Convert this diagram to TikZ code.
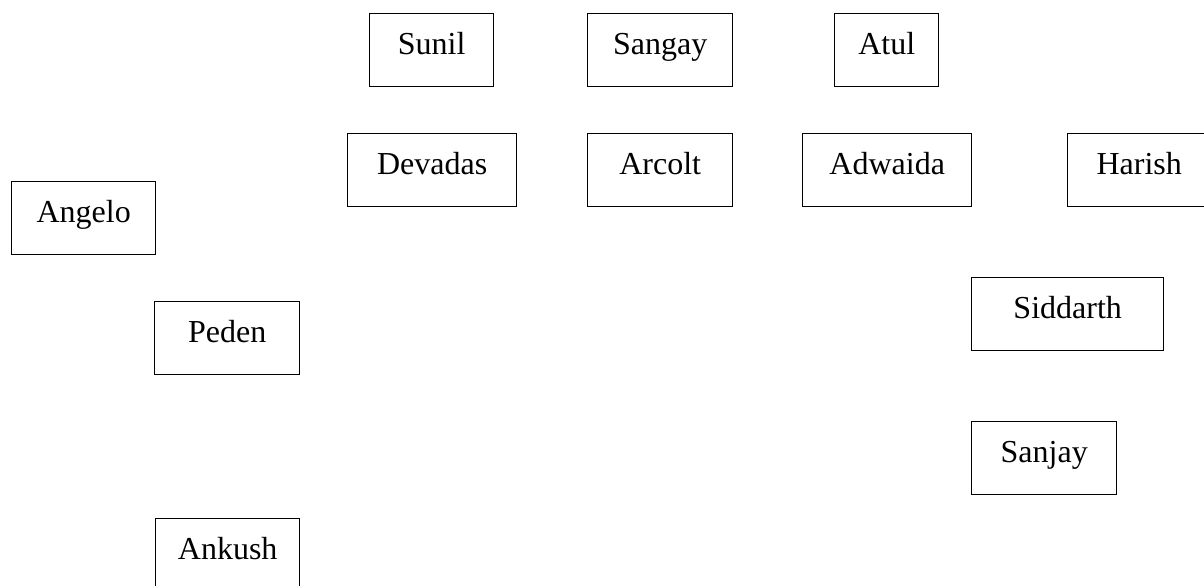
\documentclass[tikz,border=0pt]{standalone}
\usepackage{fontspec}
\setmainfont{Liberation Serif}
\begin{document}
\begin{tikzpicture}[x=0.5pt,y=-0.5pt,
  namebox/.style={draw, line width=0.7pt, anchor=north west, inner sep=0pt,
    text height=20.5pt, text depth=16pt, minimum width=#1*0.5pt,
    font=\fontsize{16}{19}\selectfont}]
\useasboundingbox (0,0) rectangle (1204,585);
\node[namebox=124] (sunil)    at (369,13)  {Sunil};
\node[namebox=145] (sangay)   at (587,13)  {Sangay};
\node[namebox=104] (atul)     at (834,13)  {Atul};
\node[namebox=169] (devadas)  at (347,133) {Devadas};
\node[namebox=145] (arcolt)   at (587,133) {Arcolt};
\node[namebox=169] (adwaida)  at (802,133) {Adwaida};
\node[namebox=143] (harish)   at (1067,133) {Harish};
\node[namebox=144] (angelo)   at (11,181)  {Angelo};
\node[namebox=145] (peden)    at (154,301) {Peden};
\node[namebox=192] (siddarth) at (971,277) {Siddarth};
\node[namebox=145] (sanjay)   at (971,421) {Sanjay};
\node[namebox=144] (ankush)   at (155,518) {Ankush};
\end{tikzpicture}
\end{document}
